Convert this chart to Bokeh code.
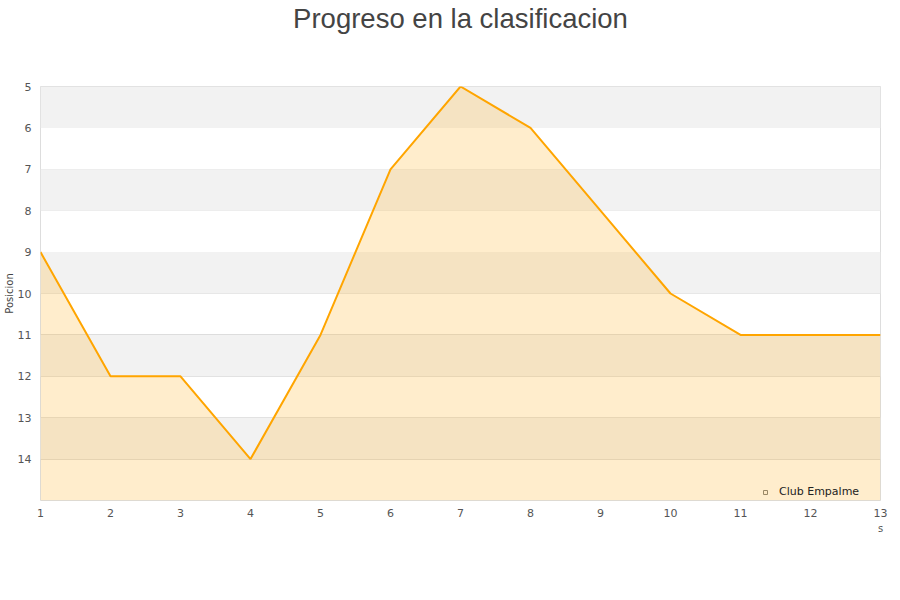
from bokeh.plotting import figure
from bokeh.models import Range1d, FixedTicker, BoxAnnotation, Legend, LegendItem, Title
from bokeh.embed import file_html
from bokeh.resources import INLINE

# Jornadas and league position of Club Empalme
jornadas = [1, 2, 3, 4, 5, 6, 7, 8, 9, 10, 11, 12, 13]
posicion = [9, 12, 12, 14, 11, 7, 5, 6, 8, 10, 11, 11, 11]
equipo = "Club Empalme"
titulo = "Progreso en la clasificacion"
y_ticks = [5, 6, 7, 8, 9, 10, 11, 12, 13, 14]
y_bottom = 15

p = figure(frame_width=840, frame_height=414, output_backend="svg", toolbar_location=None,
           x_range=Range1d(1, 13), y_range=Range1d(y_bottom, 5),
           min_border_left=40, min_border_right=20, min_border_bottom=0,
           min_border_top=0, title=None)

# a blank title keeps the heading clear of the frame; the heading itself sits above it
p.add_layout(Title(text=" ", text_font_size="20px", standoff=29), "above")
p.add_layout(Title(text=titulo, align="center", text_font="Liberation Sans",
                   text_font_size="27.5px", text_font_style="normal",
                   text_color="#444444", standoff=0), "above")

p.outline_line_color = "#dddddd"
p.background_fill_color = "white"
p.border_fill_color = "white"

# alternating horizontal bands
for lo in range(5, y_bottom, 2):
    p.add_layout(BoxAnnotation(bottom=lo, top=lo + 1, fill_color="#f2f2f2",
                               fill_alpha=1.0, line_color=None, level="underlay"))

p.xgrid.grid_line_color = None
p.ygrid.ticker = FixedTicker(ticks=y_ticks)
p.ygrid.grid_line_color = "#dddddd"

p.xaxis.ticker = FixedTicker(ticks=jornadas)
p.yaxis.ticker = FixedTicker(ticks=y_ticks)
for ax in (p.xaxis[0], p.yaxis[0]):
    ax.axis_line_color = None
    ax.major_tick_line_color = None
    ax.minor_tick_line_color = None
    ax.major_tick_out = 0
    ax.major_tick_in = 0
    ax.major_label_text_font = "DejaVu Sans"
    ax.major_label_text_font_size = "11px"
    ax.major_label_text_color = "#555555"
p.xaxis.major_label_standoff = 8
p.yaxis.major_label_standoff = 9

p.yaxis.axis_label = "Posicion"
p.yaxis.axis_label_text_font = "DejaVu Sans"
p.yaxis.axis_label_text_font_size = "10px"
p.yaxis.axis_label_text_font_style = "normal"
p.yaxis.axis_label_text_color = "#444444"
p.yaxis.axis_label_standoff = 0

p.xaxis.axis_label = "s"
p.xaxis.axis_label_align = "end"
p.xaxis.axis_label_text_font = "DejaVu Sans"
p.xaxis.axis_label_text_font_size = "10px"
p.xaxis.axis_label_text_font_style = "normal"
p.xaxis.axis_label_text_color = "#555555"
p.xaxis.axis_label_standoff = 3

area = p.varea(x=jornadas, y1=posicion, y2=[y_bottom] * len(jornadas),
               fill_color="#ffb121", fill_alpha=0.23)
p.line(x=jornadas, y=posicion, line_color="#ffa500", line_width=2)

swatch = p.scatter(x=[jornadas[0]], y=[posicion[0]], marker="square", size=8,
                   fill_color="#ffe9c4", line_color="#998866", visible=False)

# legend tucked into the lower right corner of the plot area
legend = Legend(items=[LegendItem(label=equipo, renderers=[swatch])],
                location=(720, 2), orientation="horizontal",
                border_line_color=None, background_fill_alpha=0,
                label_text_font="DejaVu Sans", label_text_font_size="11px",
                label_text_color="#222222", glyph_width=10, glyph_height=10,
                label_standoff=9, label_width=95, margin=0, padding=3)
p.add_layout(legend)

open("out.html", "w").write(file_html(p, INLINE))
